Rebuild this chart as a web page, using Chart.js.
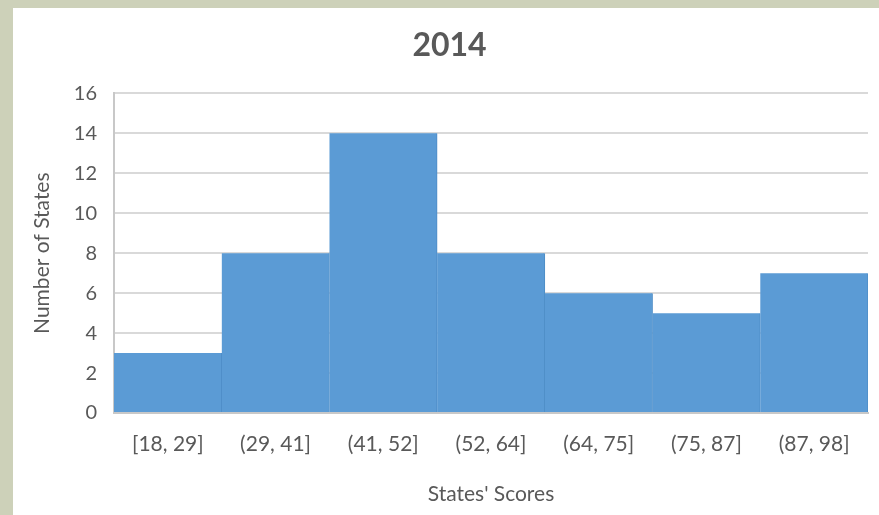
<!DOCTYPE html>
<html>
<head>
<meta charset="utf-8">
<script src="https://cdn.jsdelivr.net/npm/chart.js@4/dist/chart.umd.min.js"></script>
<style>
  html, body { margin: 0; padding: 0; width: 879px; height: 515px; background: #cdd1b9; overflow: hidden; }
  #panel { position: absolute; left: 13px; top: 8px; width: 866px; height: 507px; background: #ffffff; }
  #c { display: block; }
</style>
</head>
<body>
<div id="panel"><canvas id="c" width="866" height="507"></canvas></div>
<script>
const chartTitle = "2014";
const categories = ["[18, 29]", "(29, 41]", "(41, 52]", "(52, 64]", "(64, 75]", "(75, 87]", "(87, 98]"];
const counts = [3, 8, 14, 8, 6, 5, 7];
const xAxisTitle = "States' Scores";
const yAxisTitle = "Number of States";
const yMin = 0, yMax = 16, yStep = 2;

const textColor = '#595959';
const fontFamily = 'Lato, "Open Sans", sans-serif';

new Chart(document.getElementById('c'), {
  type: 'bar',
  data: {
    labels: categories,
    datasets: [{
      data: counts,
      backgroundColor: '#5b9bd5',
      borderColor: '#4d8cc6',
      borderWidth: { left: 0, right: 1, top: 0, bottom: 0 },
      borderSkipped: false,
      categoryPercentage: 1.0,
      barPercentage: 1.0
    }]
  },
  options: {
    responsive: false,
    animation: false,
    devicePixelRatio: 1,
    layout: { padding: { left: 18, right: 11, top: 0, bottom: 0 } },
    plugins: {
      legend: { display: false },
      tooltip: { enabled: false },
      title: {
        display: true,
        text: chartTitle,
        color: textColor,
        font: { family: fontFamily, size: 32, weight: 'bold' },
        padding: { top: 18, bottom: 29 }
      }
    },
    scales: {
      x: {
        grid: { display: false, drawTicks: false },
        border: { display: true, color: '#c8c8c8', width: 2 },
        ticks: { color: textColor, font: { family: fontFamily, size: 21 }, padding: 19, maxRotation: 0 },
        title: {
          display: true, text: xAxisTitle, color: textColor,
          font: { family: fontFamily, size: 21 },
          padding: { top: 0, bottom: 8 }
        },
        afterFit: (s) => { s.height = 102; }
      },
      y: {
        min: yMin, max: yMax,
        grid: { color: '#d9d9d9', lineWidth: 2, drawTicks: false },
        border: { display: true, color: '#c8c8c8', width: 2 },
        ticks: { stepSize: yStep, color: textColor, font: { family: fontFamily, size: 20 }, padding: 17 },
        title: {
          display: true, text: yAxisTitle, color: textColor,
          font: { family: fontFamily, size: 21 },
          padding: { top: -1, bottom: 0 }
        },
        afterFit: (s) => { s.width = 83; }
      }
    }
  }
});
</script>
</body>
</html>
